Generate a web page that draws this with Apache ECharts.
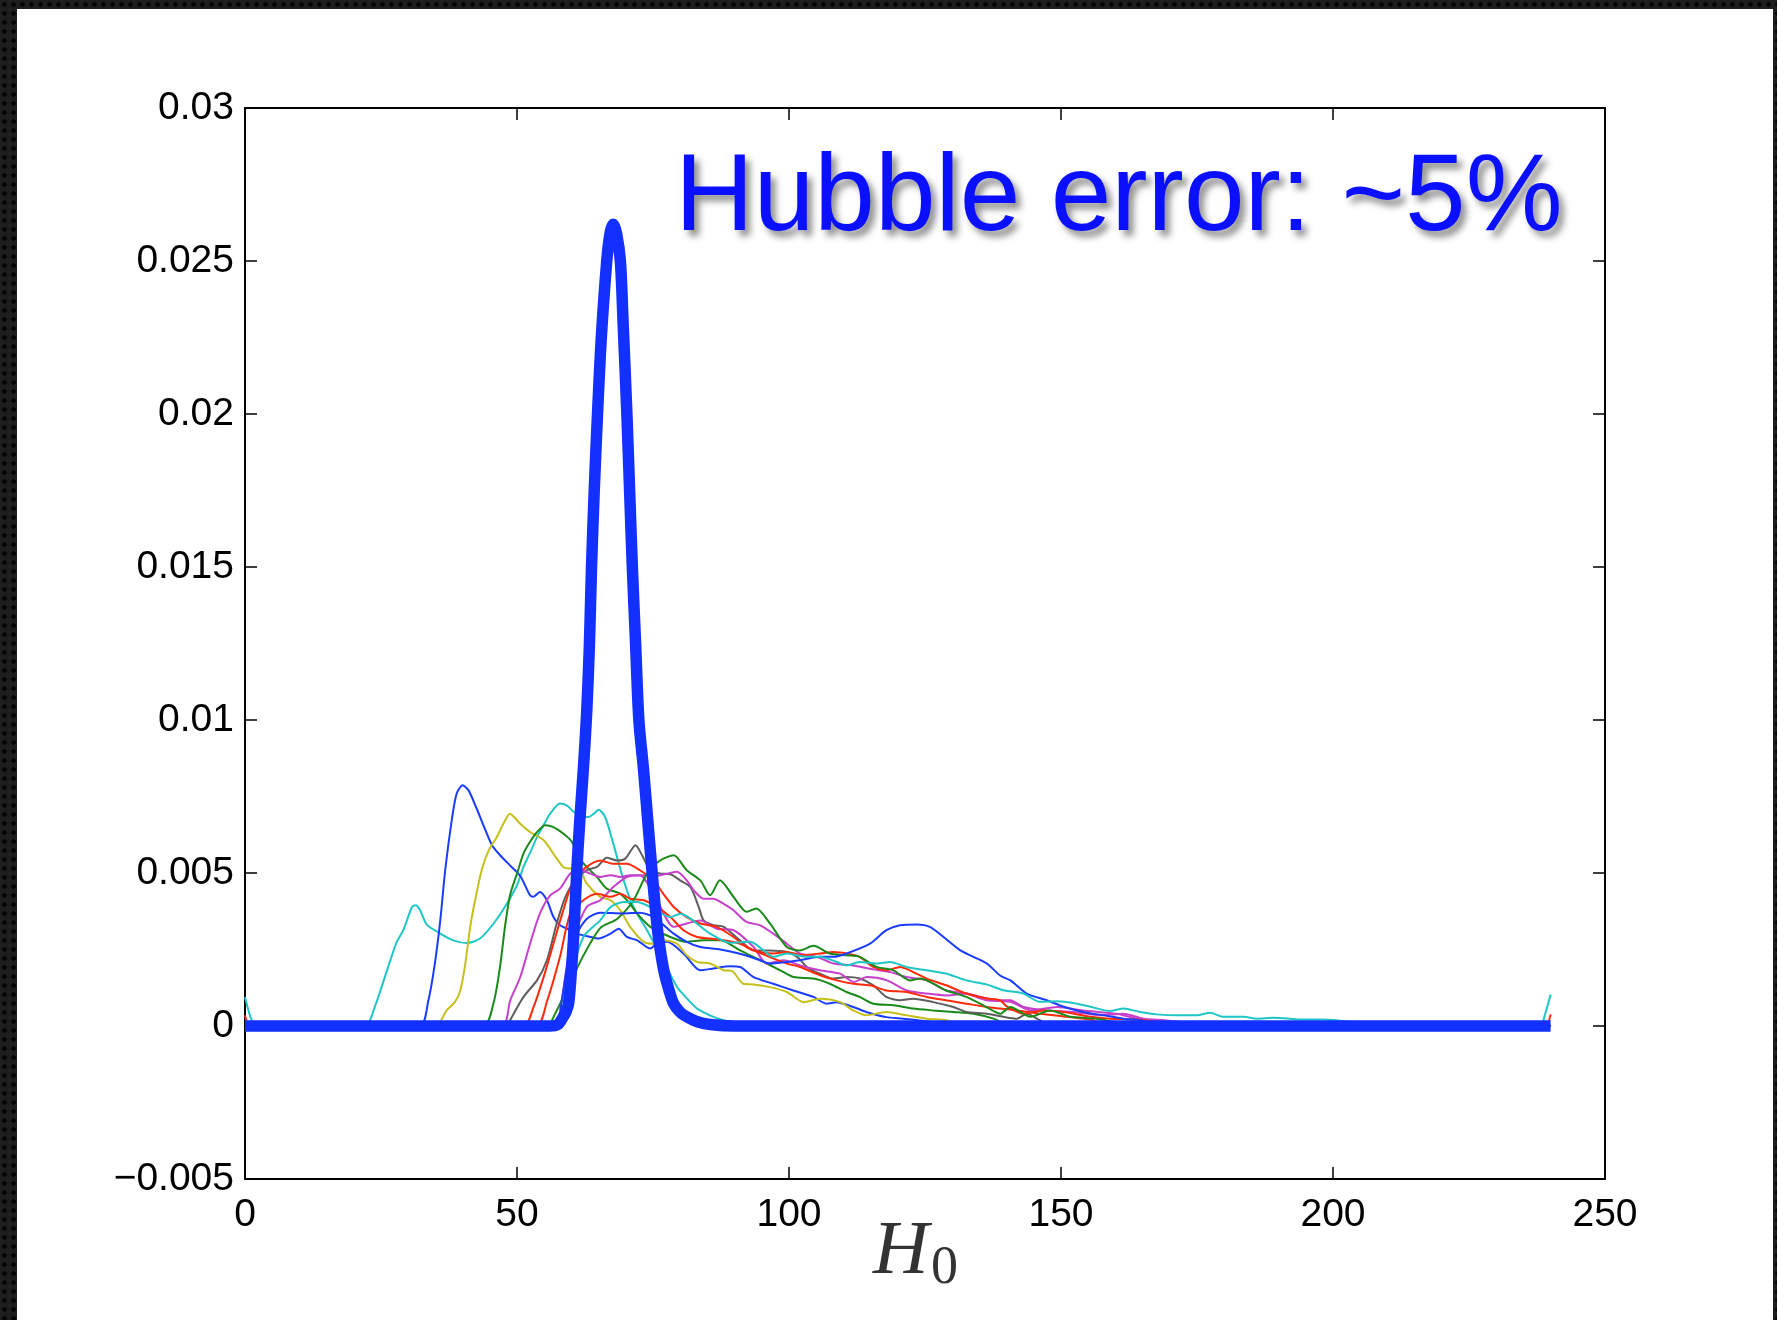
<!DOCTYPE html>
<html><head><meta charset="utf-8">
<script src="https://cdn.jsdelivr.net/npm/echarts@6/dist/echarts.min.js"></script>
<style>
html,body{margin:0;padding:0;width:1777px;height:1320px;overflow:hidden;}
body{background-color:#1e1e1e;background-image:radial-gradient(circle at 50% 50%, #060606 0 2px, transparent 2.8px);background-size:9px 9px;}
#panel{position:absolute;left:17px;top:9px;width:1756px;height:1311px;background:#fff;}
#chart{position:absolute;left:0;top:0;width:1777px;height:1320px;}
</style></head><body>
<div id="panel"></div><div id="chart"></div>
<script>
// ---- tick labels ----
const xTickLabels = ['0','50','100','150','200','250'];
const yTickLabels = ['\u22120.005','0','0.005','0.01','0.015','0.02','0.025','0.03'];
const titleText = 'Hubble error: ~5%';

// ---- thin posterior curves: [H0, density] ----
const cyanA = [[0,0.00095],[1,0.0003],[2,0],[22,0],[24,0.0007],[25.5,0.00149],[27,0.0023],[27.9,0.00275],[29.1,0.00313],[30.7,0.00389],[31.4,0.00395],[32.2,0.00378],[33.4,0.00332],[35.9,0.00302],[38.3,0.0028],[40.8,0.00271],[43.2,0.00286],[45.7,0.00335],[48.1,0.00399],[50,0.0046],[51.2,0.0052],[52.5,0.0057],[53.7,0.00618],[55,0.0066],[56.1,0.00694],[57.9,0.00727],[59.2,0.0072],[60.4,0.007],[61.8,0.00685],[63.1,0.00683],[64.2,0.00695],[65,0.00707],[66.2,0.00683],[67.7,0.00596],[69.6,0.00476],[71.4,0.00389],[73.9,0.00313],[76.9,0.00215],[79.4,0.00128],[81.5,0.00085],[83.1,0.00057],[86.1,0.0003],[88.6,0.00015],[91,0],[240,0]];
const blueA = [[0,0],[32.1,0],[33.7,0.00083],[34.9,0.00204],[35.9,0.00346],[36.8,0.00509],[38,0.00672],[38.9,0.00759],[40,0.00787],[41.1,0.0077],[42.6,0.0071],[44.2,0.0064],[45.4,0.00591],[46.9,0.00558],[48.7,0.00525],[50.6,0.0049],[52.4,0.00427],[53,0.00422],[54.2,0.00438],[55.5,0.00411],[56.7,0.00356],[57.9,0.00329],[59.2,0.00318],[61,0.00302],[63.5,0.00291],[65,0.00286],[67.2,0.00302],[68.7,0.00318],[70.2,0.00291],[72.1,0.0028],[74.5,0.00253],[75.7,0.00269],[77.6,0.00275],[80.6,0.00237],[83.7,0.00182],[86.1,0.00188],[89.2,0.00195],[91,0.00193],[93.5,0.0016],[97.1,0.00138],[100.8,0.00116],[104.5,0.00095],[106.9,0.00073],[108.7,0.00078],[111.8,0.00062],[114.2,0.00046],[117.9,0.00029],[121,0.00024],[124,0.00018],[128,0.0001],[134,0],[240,0]];
const yellow = [[0,0],[35,0],[37.1,0.00052],[38.6,0.00079],[39.6,0.00117],[40.5,0.00204],[41.4,0.00324],[42.3,0.00411],[43.5,0.00509],[44.8,0.00574],[46.3,0.00618],[47.5,0.00661],[48.7,0.00694],[50.6,0.00661],[52.4,0.00634],[54.9,0.00607],[56.7,0.00563],[58.5,0.0052],[59.8,0.00515],[61,0.00526],[62.8,0.00466],[65.3,0.00422],[67.2,0.00411],[69,0.00378],[70.8,0.00324],[73.3,0.00275],[75.1,0.00269],[77,0.0028],[79.4,0.00269],[81.2,0.00231],[83.1,0.00209],[85.5,0.00204],[88,0.00182],[89.5,0.0018],[91.6,0.00138],[93.5,0.00136],[96.5,0.00127],[99.6,0.00111],[102.7,0.00078],[105.7,0.00089],[109.4,0.00078],[111.8,0.00051],[114.2,0.00035],[117.9,0.00046],[121.6,0.00035],[125.3,0.00024],[128.9,0.00019],[133,0],[240,0]];
const greenA = [[0,0],[43.8,0],[45.7,0.00076],[46.9,0.00196],[47.8,0.00326],[48.75,0.0043],[50,0.00498],[51.2,0.00564],[52.4,0.00602],[53.7,0.00634],[55.2,0.00656],[56.7,0.0065],[58.5,0.00629],[60.1,0.00602],[61,0.0056],[62.8,0.0052],[64.7,0.00487],[66.5,0.00449],[69,0.00432],[70.8,0.00399],[72.1,0.00367],[74.5,0.00324],[78.2,0.00291],[81.2,0.00275],[84.3,0.0028],[87.4,0.0028],[91,0.00247],[94.7,0.00215],[98.4,0.00182],[100.8,0.0016],[104.5,0.00155],[107.5,0.00138],[110.6,0.00111],[113,0.00095],[115.5,0.00073],[119.2,0.00068],[122.8,0.00057],[126.5,0.00051],[130.2,0.00046],[133.9,0.0004],[137.6,0.00024],[141,0],[240,0]];
const gray = [[0,0],[48.1,0],[48.75,0.0002],[51.2,0.00095],[53.7,0.0015],[55.5,0.00215],[57.3,0.00335],[58.9,0.00422],[60.7,0.00476],[62.8,0.00509],[64.7,0.0052],[66.5,0.0055],[68.4,0.00541],[69.9,0.00547],[71.8,0.00591],[73,0.00558],[74.5,0.00509],[76.4,0.00498],[78.2,0.00496],[80,0.00476],[81.9,0.00454],[83.4,0.00389],[84.3,0.00345],[86.1,0.00329],[88,0.00324],[91,0.0028],[93.5,0.00247],[96.5,0.00247],[99.6,0.00242],[101.5,0.00226],[103.3,0.00193],[105.7,0.00171],[108.2,0.00155],[110.6,0.0016],[113,0.00155],[115.5,0.00133],[117.9,0.00095],[120.4,0.00084],[122.8,0.00089],[126.5,0.00078],[130.2,0.00062],[132.6,0.00046],[136.3,0.0004],[139.4,0.0003],[141.9,0.00024],[143.7,0.0004],[146.1,0.00019],[148,0],[240,0]];
const magentaA = [[0,0],[47.2,0],[48.75,0.00084],[50.6,0.0016],[52.4,0.00269],[54.2,0.00367],[56.1,0.00427],[57.9,0.00449],[59.8,0.00498],[61.6,0.00509],[63.5,0.00498],[65.3,0.00487],[67.2,0.00493],[69,0.00487],[70.8,0.00493],[73.3,0.00493],[75.1,0.0049],[77.6,0.00498],[79.4,0.00504],[81.2,0.00476],[82.5,0.00443],[84.3,0.00416],[86.1,0.00416],[88,0.00399],[89.8,0.00378],[92.2,0.0034],[94.7,0.00329],[97.1,0.00302],[99.6,0.00269],[102,0.00237],[105.1,0.00226],[108.2,0.00204],[111.8,0.00198],[114.9,0.00187],[118.6,0.00176],[121.6,0.0016],[125.3,0.00149],[128.9,0.00116],[132.6,0.00106],[136.3,0.00084],[140.7,0.00079],[144.4,0.00051],[149.3,0.00062],[154.1,0.00051],[160.2,0.0004],[162.6,0.0003],[165.1,0.00021],[168.7,0.00019],[175,0.00008],[180,0],[240,0]];
const magentaB = [[0,0],[57,0],[58,0.0006],[59.8,0.00258],[62.8,0.00389],[65.3,0.00411],[67.7,0.00454],[70.2,0.00487],[72.6,0.00492],[75.7,0.00411],[78.8,0.00324],[81.2,0.00335],[83.7,0.00345],[86.7,0.00318],[89.8,0.00313],[93.5,0.00258],[95.9,0.00204],[99,0.00215],[102,0.00198],[105.7,0.00182],[109.4,0.00171],[111.9,0.00144],[114.3,0.0016],[117.9,0.0015],[121.7,0.00116],[125.3,0.00106],[129,0.001],[132.7,0.00106],[135.1,0.00095],[138.8,0.00084],[140.7,0.00084],[143.1,0.00062],[147.4,0.00051],[152.3,0.00046],[157.2,0.00035],[161.5,0.0004],[165.1,0.00024],[168.7,0.00019],[174,0],[240,0]];
const redA = [[0,0.00035],[1,0],[51.2,0],[53,0.0006],[54.9,0.0016],[56.7,0.00269],[58.5,0.00378],[60.4,0.00476],[62.8,0.0052],[65.3,0.00541],[67.7,0.0053],[70.2,0.0053],[72.6,0.00509],[75.1,0.00476],[76.9,0.00432],[78.8,0.00389],[81.2,0.00356],[83.7,0.00335],[86.7,0.00324],[89.8,0.00291],[92.2,0.00258],[94.7,0.00242],[97.1,0.00237],[99.6,0.00242],[102.5,0.00232],[105.7,0.00237],[108.2,0.00242],[110.6,0.00237],[113,0.00226],[115.5,0.00193],[117.9,0.00182],[120.4,0.00193],[122.2,0.00182],[125.3,0.00155],[128.9,0.00133],[132.6,0.00106],[136.3,0.0009],[138.8,0.00084],[140.1,0.00063],[143.1,0.0004],[146.8,0.00051],[150.5,0.00046],[155.4,0.0003],[159,0.00024],[163.9,0.00021],[170,0.00008],[176,0],[239,0],[240,0.00038]];
const redB = [[0,0],[53.5,0],[55.5,0.0008],[57.9,0.00226],[59.8,0.00367],[62.2,0.00411],[64.7,0.00432],[67.2,0.00422],[69,0.00432],[70.8,0.00416],[73.3,0.00411],[75.7,0.00389],[78.2,0.00356],[80.6,0.00313],[83.1,0.00291],[85.5,0.00286],[88,0.0028],[91,0.00269],[93.5,0.00247],[96.5,0.00225],[99.6,0.00204],[102,0.00193],[105.7,0.00166],[108.8,0.00149],[111.8,0.00138],[114.9,0.00133],[117.9,0.00116],[121.6,0.00111],[125.3,0.00095],[128.9,0.00084],[132.6,0.00073],[136.3,0.00062],[138.8,0.00057],[141.9,0.00051],[146.1,0.0004],[151.1,0.0003],[155.4,0.00021],[160,0],[240,0]];
const greenB = [[0,0],[55.5,0],[57,0.0004],[59.2,0.0012],[62.2,0.0023],[65.3,0.0032],[68.4,0.0035],[71.4,0.0041],[73.9,0.00498],[76.3,0.00541],[78.8,0.00558],[81.2,0.00509],[83.7,0.00476],[85.5,0.00427],[87.3,0.00476],[89.8,0.00422],[92.2,0.00373],[94,0.00384],[96.5,0.00335],[99.6,0.00258],[102,0.00247],[104.5,0.00262],[107.5,0.00237],[110.6,0.00231],[113,0.00226],[116.1,0.00193],[119.2,0.00182],[122.2,0.00149],[124.1,0.00155],[128.9,0.00116],[132.6,0.00095],[136.3,0.00062],[138.8,0.0004],[140.7,0.00062],[144.4,0.0003],[148,0.00051],[151.7,0.0003],[156.6,0.00024],[165,0],[240,0]];
const blueB = [[0,0],[57,0],[58.2,0.0008],[59.2,0.0019],[61,0.003],[62.8,0.0035],[65.3,0.0037],[69.5,0.00368],[72.6,0.0037],[75.1,0.00356],[78.8,0.00302],[81.2,0.00275],[83.7,0.00258],[87.4,0.0025],[91,0.00236],[94.7,0.00215],[96.5,0.00204],[99.6,0.00209],[102,0.00215],[105.7,0.00226],[108.2,0.00226],[110.6,0.00237],[114.9,0.00269],[117.9,0.00313],[120.4,0.00329],[123.5,0.00332],[125.9,0.00324],[128.4,0.00291],[131.5,0.00247],[133.9,0.00226],[136.4,0.00204],[138.8,0.00165],[140.7,0.00149],[143.7,0.00106],[147.4,0.00084],[150.5,0.00063],[154.1,0.00046],[157.8,0.00035],[161.5,0.00024],[164.5,0.00019],[170,0],[240,0]];
const cyanB = [[0,0],[57,0],[59,0.0012],[62.2,0.00291],[65.3,0.00345],[67.2,0.00389],[69.6,0.00405],[72.1,0.00405],[74.5,0.00389],[78.2,0.00356],[80,0.00367],[81.9,0.00351],[85.5,0.00302],[89.2,0.00272],[92.9,0.00275],[95.3,0.00247],[97.1,0.00226],[99.6,0.00237],[103.3,0.00226],[105.7,0.00226],[108.8,0.00209],[110.6,0.00198],[113,0.00209],[116.1,0.00204],[118.6,0.00209],[121.6,0.00193],[125.3,0.00182],[129,0.00171],[132.6,0.00149],[136.3,0.00136],[139.4,0.00117],[143.1,0.00106],[146.1,0.00079],[149.3,0.00081],[152.9,0.00073],[155.4,0.00063],[159,0.00049],[161.5,0.00057],[164.5,0.00046],[167.6,0.00038],[171.3,0.00035],[175,0.00035],[177.4,0.00043],[179.9,0.0003],[183.6,0.0003],[186,0.00024],[189.1,0.00027],[192.1,0.00024],[194,0.00021],[198.2,0.00021],[205,0.0001],[210,0],[238,0],[239,0.0004],[240,0.00103]];

// ---- combined (thick) posterior ----
const combined = [[0,0],[56,0],[57.5,0.00005],[58.5,0.0003],[59,0.00045],[59.5,0.00075],[60,0.0018],[60.4,0.0029],[61,0.0051],[61.5,0.0066],[62.2,0.0084],[62.8,0.0102],[63.3,0.0124],[63.7,0.015],[64.2,0.0175],[64.8,0.02],[65.5,0.0225],[66.5,0.025],[67.1,0.0259],[67.7,0.0262],[68.3,0.0259],[69,0.025],[69.5,0.023],[70.2,0.02],[70.7,0.0175],[71.2,0.015],[71.8,0.0125],[72.4,0.01],[73.25,0.0084],[74,0.0068],[74.8,0.0051],[75.4,0.0039],[76,0.0029],[77,0.0018],[77.9,0.0012],[78.8,0.00073],[80,0.00045],[81.2,0.0003],[83,0.00015],[85.5,0.00005],[90,0],[240,0]];

const thinSeries = [
  {name:'c1', data:cyanA, color:'#1fc6c6'},
  {name:'b1', data:blueA, color:'#1a3cff'},
  {name:'y1', data:yellow, color:'#c6c01c'},
  {name:'g1', data:greenA, color:'#1a8a1a'},
  {name:'k1', data:gray, color:'#5e5e5e'},
  {name:'m1', data:magentaA, color:'#c640cc'},
  {name:'m2', data:magentaB, color:'#c640cc'},
  {name:'r1', data:redA, color:'#ff2a0a'},
  {name:'r2', data:redB, color:'#ff2a0a'},
  {name:'g2', data:greenB, color:'#1a8a1a'},
  {name:'b2', data:blueB, color:'#1a3cff'},
  {name:'c2', data:cyanB, color:'#1fc6c6'}
];

const font = 'Liberation Sans';
const lineAxis = {show:true, onZero:false, lineStyle:{color:'#000', width:2}};
const tickStyle = {show:true, inside:true, length:12, lineStyle:{color:'#000', width:1.5}};

const series = thinSeries.map(s => ({
  name: s.name, type:'line', data: s.data, showSymbol:false, smooth:0.25,
  lineStyle:{color:s.color, width:2}, itemStyle:{color:s.color}, z:2, silent:true
}));
series.push({
  name:'combined', type:'line', data: combined, showSymbol:false, smooth:0.3,
  lineStyle:{color:'#1230ff', width:11.5, join:'round'}, itemStyle:{color:'#1230ff'}, z:3, silent:true
});

const chart = echarts.init(document.getElementById('chart'), null, {renderer:'canvas'});
chart.setOption({
  animation:false,
  backgroundColor:'transparent',
  title:{
    text:titleText, left:675, top:145, padding:0,
    textStyle:{fontFamily:font, fontSize:109, lineHeight:109, fontWeight:'normal', color:'#0a10ff',
      textShadowColor:'rgba(0,0,0,0.45)', textShadowBlur:7, textShadowOffsetX:5, textShadowOffsetY:6}
  },
  grid:{left:245, top:108, width:1360, height:1071, containLabel:false, outerBoundsMode:'none'},
  xAxis:[
    {type:'value', position:'bottom', min:0, max:250, interval:50,
      axisLine:lineAxis, axisTick:tickStyle, splitLine:{show:false},
      axisLabel:{show:true, margin:17, fontSize:39, lineHeight:39, fontFamily:font, color:'#000',
        showMinLabel:true, showMaxLabel:true, hideOverlap:false,
        formatter:v => xTickLabels[Math.round(v/50)]}},
    {type:'value', position:'top', min:0, max:250, interval:50,
      axisLine:lineAxis, axisTick:tickStyle, splitLine:{show:false}, axisLabel:{show:false}}
  ],
  yAxis:[
    {type:'value', position:'left', min:-0.005, max:0.03, interval:0.005,
      axisLine:lineAxis, axisTick:tickStyle, splitLine:{show:false},
      axisLabel:{show:true, margin:11, fontSize:39, lineHeight:39, fontFamily:font, color:'#000',
        showMinLabel:true, showMaxLabel:true, hideOverlap:false,
        formatter:v => yTickLabels[Math.round((v + 0.005)/0.005)]}},
    {type:'value', position:'right', min:-0.005, max:0.03, interval:0.005,
      axisLine:lineAxis, axisTick:tickStyle, splitLine:{show:false}, axisLabel:{show:false}}
  ],
  graphic:[
    {type:'text', x:873, y:1253, silent:true,
      style:{text:'H', fontFamily:'Liberation Serif', fontStyle:'italic', fontSize:77, fill:'#333', align:'left', verticalAlign:'middle'}},
    {type:'text', x:931, y:1269, silent:true,
      style:{text:'0', fontFamily:'Liberation Serif', fontSize:54, fill:'#333', align:'left', verticalAlign:'middle'}}
  ],
  series: series
});
</script></body></html>
